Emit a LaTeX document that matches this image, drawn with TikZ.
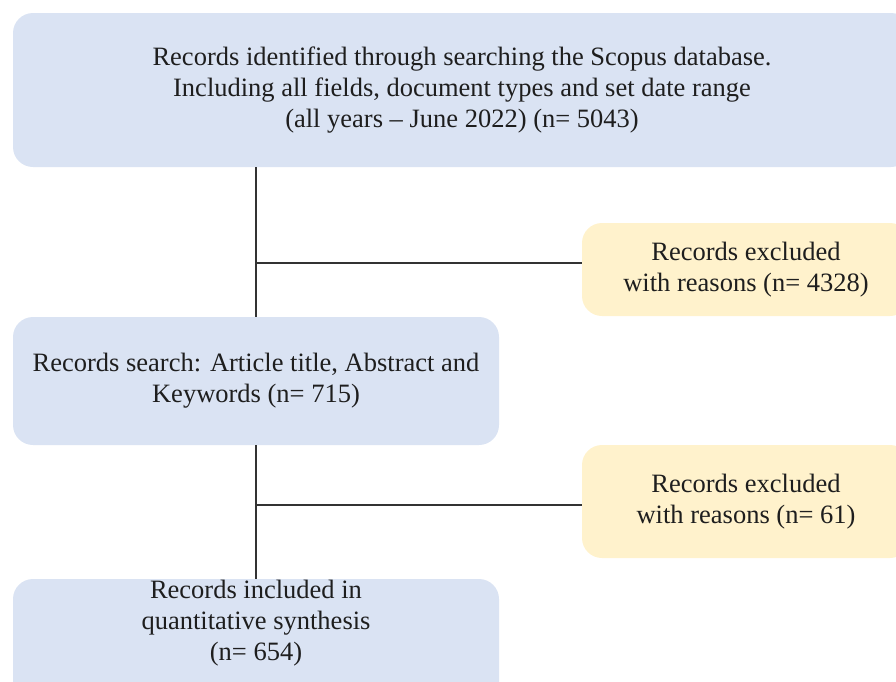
\documentclass[tikz,border=0pt]{standalone}
\usepackage{fontspec}
\setmainfont{Liberation Serif}
\definecolor{boxblue}{HTML}{DAE3F3}
\definecolor{boxyellow}{HTML}{FFF2CC}
\definecolor{linegray}{HTML}{333333}
\definecolor{txt}{HTML}{1E1E1E}
\begin{document}
\begin{tikzpicture}[x=1pt,y=-1pt,
  box/.style={rounded corners=20pt, inner sep=0pt, align=center, text=txt,
    font=\fontsize{26.5}{31}\selectfont},
  bluebox/.style={box, fill=boxblue},
  yellowbox/.style={box, fill=boxyellow},
  conn/.style={draw=linegray, line width=1.5pt}]
\useasboundingbox (0,0) rectangle (896,681);
\clip (0,0) rectangle (896,681);
\node[bluebox, minimum width=898pt, minimum height=154pt] (top) at (462,90)
  {Records identified through searching the Scopus database.\\
   Including all fields, document types and set date range\\
   (all years -- June 2022) (n= 5043)};
\node[yellowbox, minimum width=328pt, minimum height=93pt] (y1) at (746,269.5)
  {Records excluded\\ with reasons (n= 4328)};
\node[bluebox, minimum width=486pt, minimum height=128pt] (b2) at (256,381)
  {Records search: Article title, Abstract and\\ Keywords (n= 715)};
\node[yellowbox, minimum width=328pt, minimum height=113pt] (y2) at (746,501.5)
  {Records excluded\\ with reasons (n= 61)};
\node[bluebox, minimum width=486pt, minimum height=150pt] (b3) at (256,654) {};
\node[box] (b3t) at (256,623)
  {Records included in\\ quantitative synthesis\\ (n= 654)};
\coordinate (j1) at (0,263);
\coordinate (j2) at (0,505);
\draw[conn] (top.south -| b2.north) -- (b2.north);
\draw[conn] (b2.north |- j1) -- (y1.west |- j1);
\draw[conn] (b2.south) -- (b3.north);
\draw[conn] (b2.south |- j2) -- (y2.west |- j2);
\end{tikzpicture}
\end{document}
